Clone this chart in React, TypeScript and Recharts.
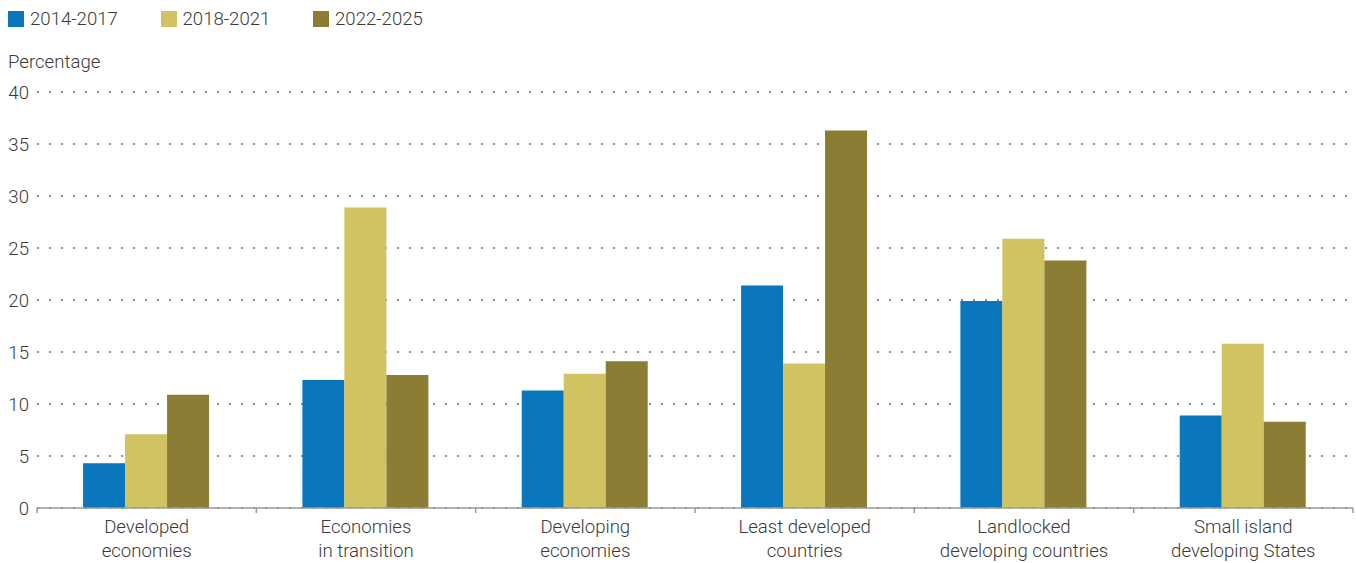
import React from 'react';
import { BarChart, Bar, XAxis, YAxis, CartesianGrid, Legend, Label } from 'recharts';

const categories = [
  'Developed\neconomies',
  'Economies\nin transition',
  'Developing\neconomies',
  'Least developed\ncountries',
  'Landlocked\ndeveloping countries',
  'Small island\ndeveloping States',
];

const p2014 = [4.3, 12.3, 11.3, 21.4, 19.9, 8.9];
const p2018 = [7.1, 28.9, 12.9, 13.9, 25.9, 15.8];
const p2022 = [10.9, 12.8, 14.1, 36.3, 23.8, 8.3];

const yTicks = [0, 5, 10, 15, 20, 25, 30, 35, 40];

const seriesNames = ['2014-2017', '2018-2021', '2022-2025'];
const colors = ['#0a77bd', '#d1c262', '#8b7d33'];

const data = categories.map((name, i) => ({
  name,
  a: p2014[i],
  b: p2018[i],
  c: p2022[i],
}));

const FONT = 'Roboto, "Noto Sans", sans-serif';
const TEXT = '#3a3a3a';
const FS = 18.6;

// x tick: two-line label plus boundary marks between categories
const CategoryTick = (props: any) => {
  const { x, y, payload, index, visibleTicksCount } = props;
  const band = 1316 / categories.length;
  const lines = String(payload.value).split('\n');
  return (
    <g>
      <line x1={x - band / 2} x2={x - band / 2} y1={y - 8} y2={y - 3} stroke="#999" strokeWidth={1.5} />
      {index === visibleTicksCount - 1 && (
        <line x1={x + band / 2} x2={x + band / 2} y1={y - 8} y2={y - 3} stroke="#999" strokeWidth={1.5} />
      )}
      <text x={x} y={y} textAnchor="middle" fill={TEXT} fontSize={FS} fontFamily={FONT} fontWeight={300}>
        {lines.map((l, i) => (
          <tspan key={i} x={x} dy={i === 0 ? 17 : 24}>{l}</tspan>
        ))}
      </text>
    </g>
  );
};

const LegendRow = () => (
  <div style={{ display: 'flex', fontFamily: FONT, fontSize: FS, fontWeight: 300, color: TEXT, paddingLeft: 8, paddingTop: 8 }}>
    {seriesNames.map((s, i) => (
      <div key={s} style={{ display: 'flex', alignItems: 'center', width: 152.5 }}>
        <span style={{ display: 'inline-block', width: 16, height: 16, background: colors[i], marginRight: 6 }} />
        <span>{s}</span>
      </div>
    ))}
  </div>
);

const App: React.FC = () => {
  return (
    <div style={{ position: 'absolute', left: 0, top: 0, width: 1356, height: 563, background: '#fff' }}>
      <BarChart
        width={1356}
        height={563}
        data={data}
        margin={{ top: 52, right: 3, left: 0, bottom: 5 }}
        barCategoryGap="21%"
        barGap={0}
      >
        <Legend
          verticalAlign="top"
          align="left"
          height={40}
          wrapperStyle={{ top: 0, left: 0 }}
          content={() => <LegendRow />}
        />
        <CartesianGrid
          vertical={false}
          stroke="#76685e"
          strokeWidth={1.6}
          strokeDasharray="2 10"
        />
        <XAxis
          dataKey="name"
          height={50}
          interval={0}
          axisLine={{ stroke: '#999', strokeWidth: 1.5 }}
          tickLine={false}
          tick={<CategoryTick />}
        />
        <YAxis
          width={37}
          domain={[0, 40]}
          ticks={yTicks}
          axisLine={false}
          tickLine={false}
          tickSize={0}
          tickMargin={8}
          tick={{ fill: TEXT, fontSize: FS, fontFamily: FONT, fontWeight: 300 }}
        >
          <Label
            content={() => (
              <text x={8} y={68} fill={TEXT} fontSize={FS} fontFamily={FONT} fontWeight={300}>
                Percentage
              </text>
            )}
          />
        </YAxis>
        <Bar dataKey="a" name={seriesNames[0]} fill={colors[0]} isAnimationActive={false} />
        <Bar dataKey="b" name={seriesNames[1]} fill={colors[1]} isAnimationActive={false} />
        <Bar dataKey="c" name={seriesNames[2]} fill={colors[2]} isAnimationActive={false} />
      </BarChart>
    </div>
  );
};

export default App;
